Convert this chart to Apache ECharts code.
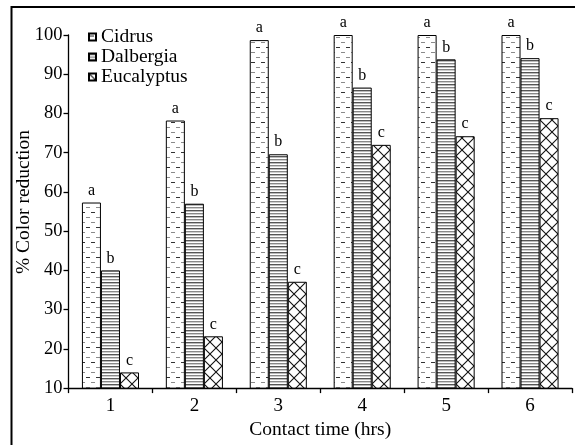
<!DOCTYPE html>
<html><head><meta charset="utf-8">
<script src="https://cdn.jsdelivr.net/npm/echarts@6/dist/echarts.min.js"></script>
<style>html,body{margin:0;padding:0;background:#fff}#c{width:575px;height:445px}</style>
</head><body><div id="c"></div>
<script>
const categories = ['1','2','3','4','5','6'];
const seriesNames = ['Cidrus','Dalbergia','Eucalyptus'];
const cidrus = [57.3, 78.2, 98.7, 100, 100, 100];
const dalbergia = [40.0, 57.0, 69.6, 86.6, 93.8, 94.1];
const eucalyptus = [14.0, 23.2, 37.1, 72.0, 74.2, 78.8];
const letters = ['a','b','c'];
const yTicks = {min:10, max:100, interval:10};
const yTitle = '% Color reduction';
const xTitle = 'Contact time (hrs)';

function pattern(type){
  const c = document.createElement('canvas');
  const ctx = c.getContext('2d');
  if(type==='dash'){
    c.width=10; c.height=30;
    ctx.fillStyle='#fff'; ctx.fillRect(0,0,10,30);
    ctx.lineWidth=1;
    for(let i=0;i<6;i++){
      ctx.strokeStyle = (i%3===0)?'#333':'#8a8a8a';
      const y=i*5+2.5; const x0=(i%2===0)?1:6;
      ctx.beginPath(); ctx.moveTo(x0,y); ctx.lineTo(x0+4,y); ctx.stroke();
    }
  } else if(type==='hline'){
    c.width=4; c.height=6;
    ctx.fillStyle='#fff'; ctx.fillRect(0,0,4,6);
    ctx.fillStyle='#555'; ctx.fillRect(0,0,4,1.4);
    ctx.fillStyle='#888'; ctx.fillRect(0,3,4,1.4);
  } else {
    c.width=12; c.height=12;
    ctx.fillStyle='#fff'; ctx.fillRect(0,0,12,12);
    ctx.strokeStyle='#111'; ctx.lineWidth=1.1;
    ctx.beginPath();
    ctx.moveTo(0,0); ctx.lineTo(12,12);
    ctx.moveTo(12,0); ctx.lineTo(0,12);
    ctx.stroke();
  }
  return {image:c, repeat:'repeat'};
}

const fonts = '"Liberation Serif","DejaVu Serif",serif';
const datas = [cidrus, dalbergia, eucalyptus];
const pats = [pattern('dash'), pattern('hline'), pattern('cross')];

const chart = echarts.init(document.getElementById('c'));
chart.setOption({
  animation:false,
  backgroundColor:'#fff',
  graphic:[
    {type:'rect', shape:{x:11.5,y:7,width:700,height:600}, style:{fill:'none', stroke:'#000', lineWidth:2}, silent:true},
    {type:'text', x:24, y:202, rotation:Math.PI/2, silent:true,
      style:{text:yTitle, fontFamily:fonts, fontSize:19.5, fill:'#000', align:'center', verticalAlign:'middle'}}
  ],
  legend:{
    orient:'vertical', left:83, top:22, itemWidth:7, itemHeight:7, itemGap:0,
    icon:'rect',
    textStyle:{fontFamily:fonts, fontSize:19.5, color:'#000', lineHeight:19.5, padding:[0,0,0,0]},
    data:seriesNames
  },
  grid:{left:68.5, right:3, top:35, bottom:52.5, containLabel:false},
  xAxis:{
    type:'category', data:categories,
    axisLine:{lineStyle:{color:'#000', width:1.3}},
    axisTick:{show:true, length:5, lineStyle:{color:'#000', width:1.3}, alignWithLabel:false},
    axisLabel:{fontFamily:fonts, fontSize:19, color:'#000', margin:8},
    name:xTitle, nameLocation:'middle', nameGap:31,
    nameTextStyle:{fontFamily:fonts, fontSize:19.5, color:'#000'}
  },
  yAxis:{
    type:'value', min:yTicks.min, max:yTicks.max, interval:yTicks.interval,
    splitLine:{show:false},
    axisLine:{show:true, lineStyle:{color:'#000', width:1.3}},
    axisTick:{show:true, length:5, lineStyle:{color:'#000', width:1.3}},
    axisLabel:{fontFamily:fonts, fontSize:18.5, color:'#000', margin:6}
  },
  series: seriesNames.map((n,i)=>({
    name:n, type:'bar', data:datas[i],
    barGap:'0%', barCategoryGap:'32%',
    itemStyle:{color:pats[i], borderColor:'#000', borderWidth:1},
    label:{show:true, position:'top', distance:4, formatter:letters[i],
      fontFamily:fonts, fontSize:16, color:'#000'}
  }))
});
</script></body></html>
